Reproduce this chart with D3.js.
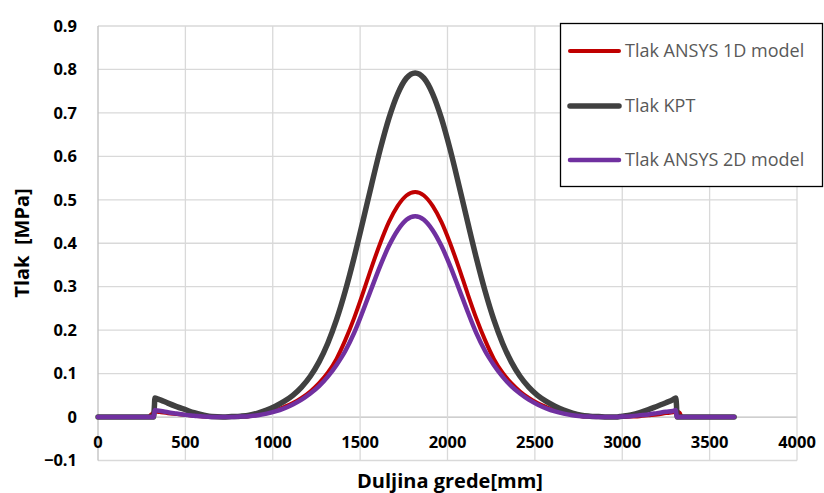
<!DOCTYPE html>
<html><head><meta charset="utf-8">
<script src="https://cdn.jsdelivr.net/npm/d3@7"></script>
<style>body{margin:0;background:#fff}svg{display:block}text{font-family:"Open Sans",Lato,sans-serif}</style>
</head><body><svg id="c" width="824" height="493"></svg>
<script>
const xValues = [0,100,200,290,300,316,318,322,326,340,360,400,450,500,550,600,650,
 715,765,815,865,915,965,1015,1065,1115,1165,1215,1265,1315,1365,1415,1465,1515,1565,1615,1665,1715,1765,1815,
 1865,1915,1965,2015,2065,2115,2165,2215,2265,2315,2365,2415,2465,2515,2565,2615,2665,2715,2765,2815,2865,2915,
 2960,3000,3050,3100,3150,3200,3250,3290,3306,3310,3314,3320,3330,3340,3400,3500,3640];
const kpt = [0,0,0,0,0,0,0,0.020,0.044,0.042,0.039,0.032,0.024,0.017,0.010,0.005,0.001,
 0,0.001,0.002,0.004,0.009,0.016,0.025,0.036,0.050,0.069,0.094,0.127,0.170,0.224,0.290,0.366,0.449,0.534,0.616,0.688,0.744,0.780,0.792,
 0.780,0.744,0.688,0.616,0.534,0.449,0.366,0.290,0.224,0.170,0.127,0.094,0.069,0.050,0.036,0.025,0.016,0.009,0.004,0.002,0.001,0,
 0,0.002,0.005,0.010,0.017,0.025,0.033,0.040,0.044,0.030,0,0,0,0,0,0,0];
const ansys1D = [0,0,0,0,0.004,0.010,0.011,0.012,0.013,0.012,0.011,0.009,0.007,0.005,0.003,0.001,0,
 0,0,0.001,0.002,0.005,0.009,0.015,0.023,0.032,0.044,0.059,0.078,0.102,0.134,0.177,0.227,0.284,0.344,0.400,0.449,0.486,0.510,0.518,
 0.510,0.486,0.449,0.400,0.344,0.284,0.227,0.177,0.134,0.102,0.078,0.059,0.044,0.032,0.023,0.015,0.009,0.005,0.002,0.001,0,0,
 0,0,0.001,0.002,0.004,0.006,0.009,0.011,0.013,0.013,0.013,0.012,0.009,0,0,0,0];
const ansys2D = [0,0,0,0,0,0,0,0.008,0.016,0.015,0.014,0.011,0.008,0.005,0.003,0.001,0,
 0,0,0.001,0.002,0.004,0.008,0.013,0.020,0.029,0.040,0.054,0.071,0.093,0.120,0.152,0.193,0.243,0.296,0.348,0.394,0.430,0.454,0.462,
 0.454,0.430,0.394,0.348,0.296,0.243,0.193,0.152,0.120,0.093,0.071,0.054,0.040,0.029,0.020,0.013,0.008,0.004,0.002,0.001,0,0,
 0,0.001,0.002,0.004,0.006,0.009,0.012,0.014,0.016,0.006,0,0,0,0,0,0,0];
const seriesNames = ["Tlak ANSYS 1D model","Tlak KPT","Tlak ANSYS 2D model"];
const xTicks = [0,500,1000,1500,2000,2500,3000,3500,4000];
const yTicks = [-0.1,0,0.1,0.2,0.3,0.4,0.5,0.6,0.7,0.8,0.9];

const svg = d3.select("#c");
const x = d3.scaleLinear().domain([0,4000]).range([98,797]);
const y = d3.scaleLinear().domain([-0.1,0.9]).range([460.5,26]);

// gridlines
svg.append("g").selectAll("line").data(yTicks).join("line")
  .attr("x1",x(0)).attr("x2",x(4000)).attr("y1",d=>y(d)).attr("y2",d=>y(d))
  .attr("stroke",d=>d===0?"#BFBFBF":"#D9D9D9").attr("stroke-width",1.3);
svg.append("g").selectAll("line").data(xTicks).join("line")
  .attr("x1",d=>x(d)).attr("x2",d=>x(d)).attr("y1",y(0.9)).attr("y2",y(-0.1))
  .attr("stroke",d=>d===0?"#BFBFBF":"#D9D9D9").attr("stroke-width",1.3);

// y tick labels
svg.append("g").selectAll("text").data(yTicks).join("text")
  .attr("x",77).attr("y",d=>y(d)).attr("dy","0.35em").attr("text-anchor","end")
  .attr("font-size",16.5).attr("font-weight","bold").attr("fill","#000")
  .text(d=>d3.format("")(Math.round(d*10)/10));
// x tick labels
svg.append("g").selectAll("text").data(xTicks).join("text")
  .attr("x",d=>x(d)).attr("y",448).attr("text-anchor","middle")
  .attr("font-size",16.5).attr("font-weight","bold").attr("fill","#000")
  .text(d=>d);

// titles
svg.append("text").attr("transform","translate(29,243) rotate(-90)")
  .attr("text-anchor","middle").attr("font-size",20).attr("font-weight","bold")
  .style("white-space","pre").text("Tlak  [MPa]");
svg.append("text").attr("x",450).attr("y",488).attr("text-anchor","middle")
  .attr("font-size",20).attr("font-weight","bold").text("Duljina grede[mm]");

// lines
const colors = ["#C00000","#404040","#7030A0"];
const widths = [4,5.5,4.5];
const data = [ansys1D,kpt,ansys2D];
const line = d3.line().x((d,i)=>x(xValues[i])).y(d=>y(d)).curve(d3.curveMonotoneX);
data.forEach((s,k)=>{
  svg.append("path").datum(s).attr("d",line).attr("fill","none")
    .attr("stroke",colors[k]).attr("stroke-width",widths[k])
    .attr("stroke-linecap","round").attr("stroke-linejoin","round");
});

// legend
const lg = svg.append("g");
lg.append("rect").attr("x",560.5).attr("y",23.5).attr("width",262).attr("height",163)
  .attr("fill","#fff").attr("stroke","#000").attr("stroke-width",1.3);
const ly = [51,106,160];
seriesNames.forEach((n,k)=>{
  lg.append("line").attr("x1",570).attr("x2",619).attr("y1",ly[k]).attr("y2",ly[k])
    .attr("stroke",colors[k]).attr("stroke-width",widths[k]).attr("stroke-linecap","round");
  lg.append("text").attr("x",625).attr("y",ly[k]).attr("dy","0.35em")
    .attr("font-size",18).attr("fill","#595959").text(n);
});
</script></body></html>
